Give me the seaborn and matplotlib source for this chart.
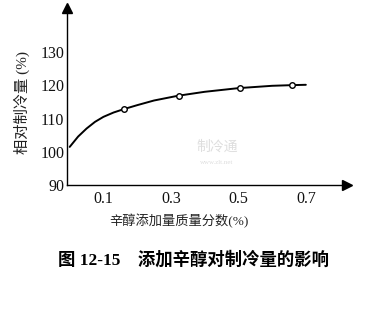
import matplotlib
matplotlib.use("Agg")
import matplotlib.pyplot as plt
import seaborn as sns
import pandas as pd

# Data
curve_x = [0.0, 0.025, 0.05, 0.075, 0.10, 0.13, 0.16, 0.20, 0.25, 0.32, 0.40, 0.50, 0.60, 0.66, 0.70]
curve_y = [101.5, 104.6, 107.0, 109.0, 110.5, 111.8, 112.8, 114.0, 115.4, 116.8, 118.0, 119.1, 119.8, 120.0, 120.1]
point_x = [0.16, 0.325, 0.505, 0.66]
point_y = [112.8, 116.8, 119.1, 120.0]
xticks = [0.1, 0.3, 0.5, 0.7]
yticks = [90, 100, 110, 120, 130]

sns.set_theme(style="white")
plt.rcParams['font.family'] = ['Liberation Serif', 'Noto Sans CJK SC', 'DejaVu Sans']

W, H = 367, 310
fig = plt.figure(figsize=(W / 100, H / 100), dpi=100)
left, right, bottom, top = 67, 347, 185.3, 8
ax = fig.add_axes([left / W, 1 - bottom / H, (right - left) / W, (bottom - top) / H])

df_c = pd.DataFrame({"x": curve_x, "y": curve_y})
df_p = pd.DataFrame({"x": point_x, "y": point_y})
sns.lineplot(data=df_c, x="x", y="y", ax=ax, color="black", linewidth=1.4, sort=True)
sns.scatterplot(data=df_p, x="x", y="y", ax=ax, marker="o", s=16, facecolor="white",
                edgecolor="black", linewidth=1.0, zorder=5)

ax.set_xlim(-0.008, 0.822)
ax.set_ylim(90, 143.1)
ax.set_xticks(xticks)
ax.set_xticklabels([f"{v:.1f}" for v in xticks])
ax.set_yticks(yticks)
ax.set_yticklabels([str(v) for v in yticks])
ax.tick_params(axis="both", direction="in", length=3, width=0.8, colors="black",
               labelsize=11.5, pad=2)
ax.tick_params(axis="x", pad=4)
for lab in ax.get_xticklabels() + ax.get_yticklabels():
    lab.set_family("Liberation Serif")
    lab.set_color("#111111")
ax.set_xlabel("")
ax.set_ylabel("")

for s in ["top", "right"]:
    ax.spines[s].set_visible(False)
for s in ["left", "bottom"]:
    ax.spines[s].set_color("black")
    ax.spines[s].set_linewidth(1.0)

# axis arrowheads
ax.plot(1, 0, marker=">", markersize=7, color="black", transform=ax.transAxes, clip_on=False)
ax.plot(0, 1, marker="^", markersize=7, color="black", transform=ax.transAxes, clip_on=False)

fam = ["Liberation Serif", "Noto Sans CJK SC", "DejaVu Sans"]
# y label
fig.text(22 / W, 1 - 103 / H, "相对制冷量 (%)", rotation=90, ha="center", va="center",
         fontsize=11, family=fam, color="#222222")
# x label
fig.text(179 / W, 1 - 221.5 / H, "辛醇添加量质量分数(%)", ha="center", va="center",
         fontsize=9.5, family=fam, color="#222222")
# caption
fig.text(193 / W, 1 - 260 / H, "图 12-15    添加辛醇对制冷量的影响", ha="center", va="center",
         fontsize=12.5, fontweight="bold", family=fam, color="black")

# faint watermark
fig.text(217 / W, 1 - 147 / H, "制冷通", ha="center", va="center", fontsize=10,
         family=["Noto Sans CJK SC", "DejaVu Sans"], color="#dedede")
fig.text(217 / W, 1 - 163 / H, "www.zlt.net", ha="center", va="center", fontsize=5,
         family="Liberation Serif", color="#dedede")

fig.savefig("out.png", dpi=100, facecolor="white")
